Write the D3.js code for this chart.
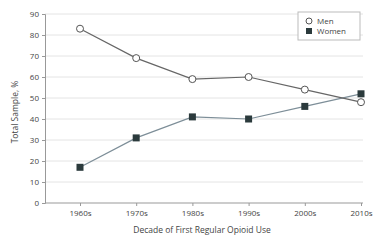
<!DOCTYPE html>
<html>
<head>
<meta charset="utf-8">
<script src="https://cdn.jsdelivr.net/npm/d3@7"></script>
<style>
  body { margin: 0; background: #fff; }
  text { font-family: "Open Sans", "Liberation Sans", sans-serif; fill: #444; }
</style>
</head>
<body>
<div id="chart"></div>
<script>
const decades = ["1960s", "1970s", "1980s", "1990s", "2000s", "2010s"];
const men = [83, 69, 59, 60, 54, 48];
const women = [17, 31, 41, 40, 46, 52];
const yTicks = [0, 10, 20, 30, 40, 50, 60, 70, 80, 90];

const width = 375, height = 241;
const svg = d3.select("#chart").append("svg")
  .attr("width", width).attr("height", height);

// scales
const xScale = d3.scalePoint()
  .domain(decades)
  .range([80, 361]);
const yScale = d3.scaleLinear()
  .domain([0, 90])
  .range([203, 14]);

// gridlines
svg.append("g")
  .selectAll("line")
  .data(yTicks.slice(1))
  .enter()
  .append("line")
  .attr("x1", 45).attr("x2", 363)
  .attr("y1", d => yScale(d)).attr("y2", d => yScale(d))
  .attr("stroke", "#e4e4e4").attr("stroke-width", 1);

// y axis
const yAxis = d3.axisLeft(yScale).tickValues(yTicks).tickSize(3).tickPadding(3);
const gy = svg.append("g")
  .attr("transform", "translate(45,0)")
  .call(yAxis);
gy.select(".domain").attr("stroke", "#999");
gy.selectAll(".tick line").attr("stroke", "#999");
gy.selectAll("text").style("font-size", "8px");

// x axis
const xAxis = d3.axisBottom(xScale).tickSize(3).tickPadding(4);
const gx = svg.append("g")
  .attr("transform", "translate(0,203)")
  .call(xAxis);
gx.select(".domain").attr("d", "M45,0H363").attr("stroke", "#999");
gx.selectAll(".tick line").attr("stroke", "#999");
gx.selectAll("text").style("font-size", "8px");

// axis titles
svg.append("text")
  .attr("transform", "rotate(-90)")
  .attr("x", -112).attr("y", 18)
  .attr("text-anchor", "middle")
  .style("font-size", "8.5px")
  .text("Total Sample, %");

svg.append("text")
  .attr("x", 202).attr("y", 233)
  .attr("text-anchor", "middle")
  .style("font-size", "8.5px")
  .text("Decade of First Regular Opioid Use");

// lines
const line = d3.line()
  .x((d, i) => xScale(decades[i]))
  .y(d => yScale(d));

svg.append("path")
  .datum(women)
  .attr("d", line)
  .attr("fill", "none")
  .attr("stroke", "#7d8e98")
  .attr("stroke-width", 1.2);

svg.append("path")
  .datum(men)
  .attr("d", line)
  .attr("fill", "none")
  .attr("stroke", "#666")
  .attr("stroke-width", 1.2);

// markers
svg.append("g")
  .selectAll("rect")
  .data(women)
  .enter()
  .append("rect")
  .attr("x", (d, i) => xScale(decades[i]) - 3.5)
  .attr("y", d => yScale(d) - 3.5)
  .attr("width", 7).attr("height", 7)
  .attr("fill", "#2b3a3c");

svg.append("g")
  .selectAll("circle")
  .data(men)
  .enter()
  .append("circle")
  .attr("cx", (d, i) => xScale(decades[i]))
  .attr("cy", d => yScale(d))
  .attr("r", 3.5)
  .attr("fill", "#fff")
  .attr("stroke", "#555")
  .attr("stroke-width", 1);

// legend
const legend = svg.append("g").attr("transform", "translate(298,12)");
legend.append("rect")
  .attr("width", 62).attr("height", 28)
  .attr("fill", "#fff").attr("stroke", "#bbb");
legend.append("circle")
  .attr("cx", 11).attr("cy", 9).attr("r", 3)
  .attr("fill", "#fff").attr("stroke", "#555");
legend.append("text")
  .attr("x", 19).attr("y", 12)
  .style("font-size", "8px")
  .text("Men");
legend.append("rect")
  .attr("x", 8).attr("y", 16).attr("width", 6).attr("height", 6)
  .attr("fill", "#2b3a3c");
legend.append("text")
  .attr("x", 19).attr("y", 22)
  .style("font-size", "8px")
  .text("Women");
</script>
</body>
</html>
